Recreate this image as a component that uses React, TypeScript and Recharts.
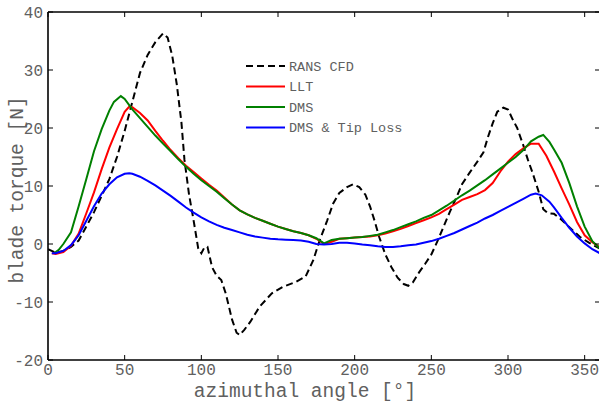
import React from 'react';
import { LineChart, Line, XAxis, YAxis, Legend } from 'recharts';

const xTicks = [0, 50, 100, 150, 200, 250, 300, 350];
const yTicks = [-20, -10, 0, 10, 20, 30, 40];

const cfdAngle = [0, 5, 10, 15, 20, 25, 30, 35, 40, 45, 50, 55, 60, 65, 70, 75, 78, 81, 84, 87, 89, 92, 95, 98, 100, 102, 104, 107, 110, 113, 116, 120, 123, 125, 128, 132, 138, 146, 153, 162, 168, 173, 177, 182, 186, 190, 195, 199, 203, 207, 210, 213, 216, 220, 224, 228, 232, 235, 238, 242, 246, 250, 254, 258, 262, 266, 270, 275, 280, 284, 287, 290, 293, 297, 300, 303, 306, 310, 313, 316, 320, 323, 326, 330, 334, 340, 347, 353, 360];
const cfdTorque = [-0.9, -1.5, -1.2, -0.5, 0.6, 3.0, 5.5, 8.3, 11.2, 15.0, 19.5, 24.5, 29.5, 32.6, 34.8, 36.3, 35.6, 32.5, 27.5, 21.0, 14.5, 8.5, 4.0, -0.8, -1.6, -0.6, -0.5, -4.0, -5.5, -6.2, -8.6, -13.0, -15.3, -15.7, -14.8, -13.4, -10.8, -8.5, -7.4, -6.5, -5.6, -2.8, 0.5, 4.0, 7.0, 8.8, 9.8, 10.3, 9.8, 8.5, 6.5, 4.0, 1.2, -1.8, -4.0, -5.8, -6.9, -7.2, -6.6, -4.9, -3.4, -1.8, 0.5, 3.0, 5.5, 7.8, 10.3, 12.3, 14.2, 15.8, 18.5, 20.8, 22.8, 23.5, 23.2, 21.5, 20.0, 17.0, 14.5, 12.3, 9.0, 6.0, 5.3, 5.2, 4.4, 2.9, 1.2, 0.2, -0.8];

const lltAngle = [2.5, 5, 10, 15, 20, 25, 30, 35, 40, 45, 50, 53, 55, 60, 65, 70, 75, 80, 85, 90, 95, 100, 105, 110, 115, 120, 125, 130, 135, 140, 145, 150, 155, 160, 165, 170, 175, 180, 185, 190, 195, 200, 205, 210, 215, 220, 225, 230, 235, 240, 245, 250, 255, 260, 265, 270, 275, 280, 285, 290, 295, 300, 305, 310, 315, 320, 325, 330, 335, 340, 345, 350, 355, 360];
const lltTorque = [-1.6, -1.7, -1.4, -0.3, 1.8, 5.3, 8.9, 12.9, 16.6, 19.8, 22.8, 23.7, 23.6, 22.6, 21.3, 19.5, 17.8, 16.2, 14.8, 13.5, 12.4, 11.3, 10.2, 9.2, 8.0, 6.8, 5.8, 5.1, 4.5, 4.0, 3.5, 3.0, 2.6, 2.2, 1.9, 1.5, 0.9, 0.0, 0.4, 0.9, 1.0, 1.1, 1.2, 1.3, 1.5, 1.8, 2.2, 2.6, 3.1, 3.6, 4.1, 4.6, 5.2, 6.0, 6.8, 7.6, 8.1, 8.6, 9.3, 10.5, 12.5, 14.2, 15.5, 16.5, 17.3, 17.3, 15.2, 12.5, 9.6, 6.8, 3.8, 1.5, 0.3, -0.6];

const dmsAngle = [4, 7, 10, 15, 20, 25, 30, 35, 40, 43, 47.5, 50, 55, 60, 65, 70, 75, 80, 85, 90, 95, 100, 105, 110, 115, 120, 125, 130, 135, 140, 145, 150, 155, 160, 165, 170, 175, 180, 185, 190, 195, 200, 205, 210, 215, 220, 225, 230, 235, 240, 245, 250, 255, 260, 265, 270, 275, 280, 285, 290, 295, 300, 305, 310, 315, 320, 323, 327, 330, 335, 340, 345, 350, 355, 360];
const dmsTorque = [-1.6, -1.0, 0.0, 2.0, 6.5, 11.2, 16.0, 19.8, 23.0, 24.5, 25.5, 25.0, 23.2, 21.7, 20.2, 18.7, 17.3, 16.0, 14.6, 13.3, 12.1, 11.0, 10.0, 9.0, 7.9, 6.8, 5.8, 5.1, 4.5, 4.0, 3.5, 3.0, 2.6, 2.2, 1.9, 1.5, 1.0, 0.1, 0.7, 0.9, 1.0, 1.1, 1.2, 1.4, 1.6, 2.0, 2.4, 2.9, 3.4, 3.9, 4.5, 5.0, 5.8, 6.6, 7.5, 8.4, 9.2, 10.1, 11.0, 12.0, 13.0, 14.0, 15.0, 16.2, 17.7, 18.5, 18.8, 17.6, 16.3, 14.0, 10.5, 6.5, 3.0, 0.5, -0.8];

const tipAngle = [2.5, 5, 10, 15, 20, 25, 30, 35, 40, 45, 50, 53, 55, 60, 65, 70, 75, 80, 85, 90, 95, 100, 105, 110, 115, 120, 125, 130, 135, 140, 145, 150, 155, 160, 165, 170, 175, 180, 185, 190, 195, 200, 205, 210, 215, 220, 225, 230, 235, 240, 245, 250, 255, 260, 265, 270, 275, 280, 285, 290, 295, 300, 305, 310, 315, 318, 322, 327, 330, 335, 340, 345, 350, 355, 360];
const tipTorque = [-1.6, -1.6, -1.2, -0.2, 1.5, 4.0, 6.5, 8.7, 10.3, 11.5, 12.1, 12.2, 12.1, 11.6, 10.9, 10.1, 9.2, 8.3, 7.3, 6.3, 5.4, 4.6, 3.9, 3.3, 2.8, 2.4, 2.0, 1.6, 1.3, 1.1, 0.9, 0.8, 0.75, 0.7, 0.6, 0.4, 0.0, -0.1, 0.0, 0.2, 0.2, 0.1, -0.1, -0.2, -0.4, -0.5, -0.5, -0.4, -0.2, -0.1, 0.2, 0.5, 0.9, 1.4, 1.9, 2.5, 3.1, 3.7, 4.4, 5.0, 5.7, 6.4, 7.1, 7.8, 8.5, 8.7, 8.4, 7.3, 6.3, 4.5, 2.8, 1.3, 0.1, -0.9, -1.6];

const seriesNames = ['RANS CFD', 'LLT', 'DMS', 'DMS & Tip Loss'];

const toPoints = (xs: number[], ys: number[]) => xs.map((x, i) => ({ x, y: ys[i] }));

const cfdData = toPoints(cfdAngle, cfdTorque);
const lltData = toPoints(lltAngle, lltTorque);
const dmsData = toPoints(dmsAngle, dmsTorque);
const tipData = toPoints(tipAngle, tipTorque);

const FONT = '"Liberation Mono", "Courier New", monospace';
const TEXT = '#606060';

const legendItems = [
  { name: seriesNames[0], color: '#000000', dash: '7 4' },
  { name: seriesNames[1], color: '#ff0000', dash: undefined },
  { name: seriesNames[2], color: '#008000', dash: undefined },
  { name: seriesNames[3], color: '#0000ff', dash: undefined },
];

const LegendContent = () => (
  <svg width={170} height={84} style={{ display: 'block' }}>
    {legendItems.map((it, i) => {
      const cy = 10 + i * 20.5;
      return (
        <g key={it.name}>
          <line x1={2} x2={41} y1={cy} y2={cy} stroke={it.color} strokeWidth={2} strokeDasharray={it.dash} />
          <text x={45} y={cy + 4.5} fontFamily={FONT} fontSize={13.5} fill={TEXT}>{it.name}</text>
        </g>
      );
    })}
  </svg>
);

export default function App() {
  return (
    <div style={{ position: 'absolute', left: 0, top: 0, width: 599, height: 403, overflow: 'hidden', background: '#fff' }}>
      <LineChart width={605} height={403} margin={{ top: 0, right: 0, bottom: 0, left: 0 }}>
        <XAxis
          xAxisId="bottom"
          dataKey="x"
          type="number"
          domain={[0, 360]}
          ticks={xTicks}
          allowDataOverflow
          height={43}
          tickSize={-5}
          tickMargin={9}
          axisLine={{ stroke: '#000', strokeWidth: 1.6 }}
          tickLine={{ stroke: '#000', strokeWidth: 1 }}
          tick={{ fill: TEXT, fontSize: 16, fontFamily: FONT }}
          label={{
            content: () => (
              <text x={305} y={397} textAnchor="middle" fontFamily={FONT} fontSize={19.5} fill={TEXT}>
                azimuthal angle [°]
              </text>
            ),
          }}
        />
        <XAxis
          xAxisId="top"
          orientation="top"
          dataKey="x"
          type="number"
          domain={[0, 360]}
          ticks={xTicks}
          allowDataOverflow
          height={12}
          tickSize={-5}
          tickFormatter={() => ''}
          axisLine={{ stroke: '#000', strokeWidth: 1.6 }}
          tickLine={{ stroke: '#000', strokeWidth: 1 }}
        />
        <YAxis
          yAxisId="left"
          type="number"
          domain={[-20, 40]}
          ticks={yTicks}
          allowDataOverflow
          width={48}
          tickSize={-5}
          tickMargin={10}
          axisLine={{ stroke: '#000', strokeWidth: 1.6 }}
          tickLine={{ stroke: '#000', strokeWidth: 1 }}
          tick={{ fill: TEXT, fontSize: 16, fontFamily: FONT }}
          label={{
            content: () => (
              <text x={23} y={190} transform="rotate(-90, 23, 190)" textAnchor="middle" fontFamily={FONT} fontSize={19.5} fill={TEXT}>
                blade torque [N]
              </text>
            ),
          }}
        />
        <YAxis
          yAxisId="right"
          orientation="right"
          type="number"
          domain={[-20, 40]}
          ticks={yTicks}
          allowDataOverflow
          width={5}
          tickSize={-5}
          tickFormatter={() => ''}
          axisLine={{ stroke: '#000', strokeWidth: 1.6 }}
          tickLine={{ stroke: '#000', strokeWidth: 1 }}
        />
        <Legend
          content={<LegendContent />}
          wrapperStyle={{ position: 'absolute', left: 244, top: 56, width: 0, height: 0, overflow: 'visible' }}
        />
        <Line xAxisId="bottom" yAxisId="left" data={cfdData} dataKey="y" name={seriesNames[0]} type="linear" stroke="#000000" strokeWidth={2} strokeDasharray="7 4" dot={false} isAnimationActive={false} />
        <Line xAxisId="bottom" yAxisId="left" data={lltData} dataKey="y" name={seriesNames[1]} type="linear" stroke="#ff0000" strokeWidth={2} dot={false} isAnimationActive={false} />
        <Line xAxisId="bottom" yAxisId="left" data={dmsData} dataKey="y" name={seriesNames[2]} type="linear" stroke="#008000" strokeWidth={2} dot={false} isAnimationActive={false} />
        <Line xAxisId="bottom" yAxisId="left" data={tipData} dataKey="y" name={seriesNames[3]} type="linear" stroke="#0000ff" strokeWidth={2} dot={false} isAnimationActive={false} />
      </LineChart>
    </div>
  );
}
